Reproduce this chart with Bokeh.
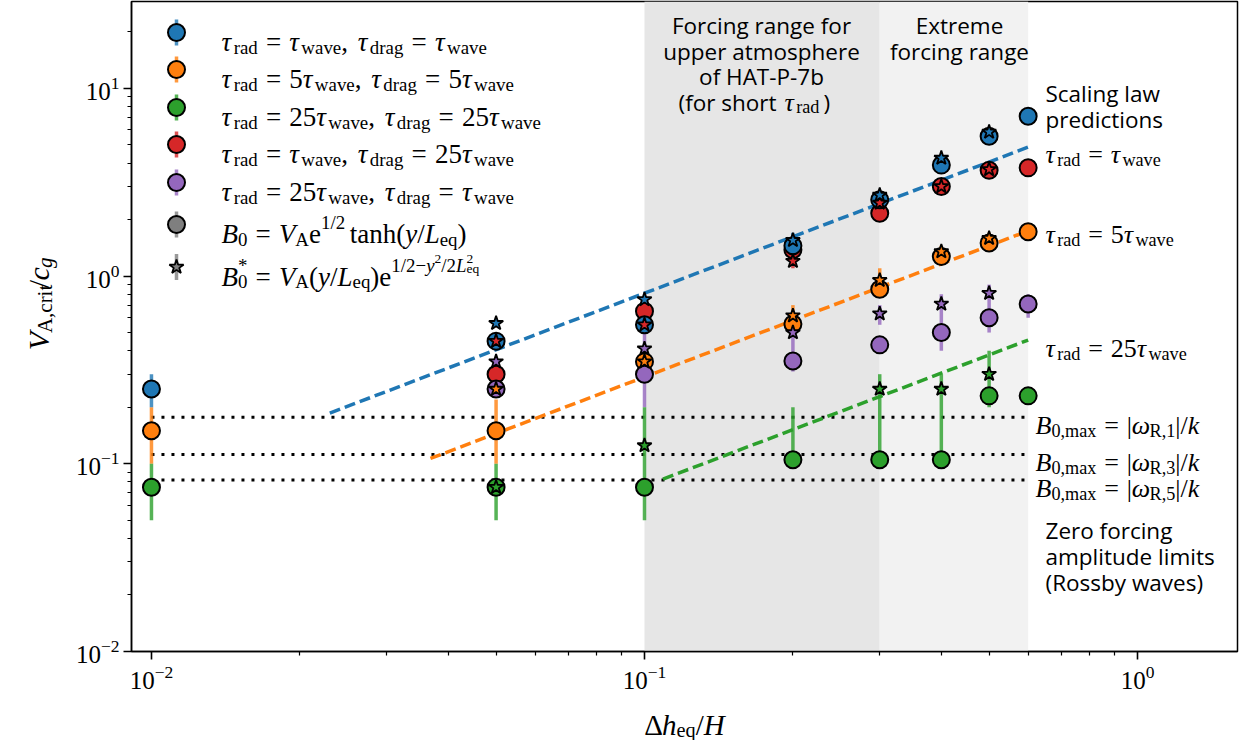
from math import pi
from bokeh.plotting import figure
from bokeh.layouts import row, column
from bokeh.models import Range1d, LinearScale, Label, BoxAnnotation, FixedTicker, LogTickFormatter
from bokeh.embed import file_html
from bokeh.resources import INLINE

nan = float("nan")

# ---------------- data ----------------
dh = [0.01, 0.05, 0.1, 0.2, 0.3, 0.4, 0.5, 0.6]

blue_circle = [0.25, 0.45, 0.55, 1.45, 2.55, 3.9, 5.55, 7.1]
blue_star = [nan, 0.56, 0.75, 1.55, 2.7, 4.25, 5.85, nan]
blue_lo = [0.2, nan, nan, 1.3, nan, nan, nan, nan]
blue_hi = [0.3, nan, nan, 1.7, nan, nan, nan, nan]

orange_circle = [0.15, 0.15, 0.35, 0.555, 0.85, 1.27, 1.5, 1.72]
orange_star = [nan, 0.25, 0.35, 0.615, 0.95, 1.35, 1.59, nan]
orange_lo = [0.1, 0.1, nan, 0.5, 0.8, 1.2, 1.45, nan]
orange_hi = [0.2, 0.22, nan, 0.7, 1.1, 1.45, 1.7, nan]

green_circle = [0.075, 0.075, 0.075, 0.105, 0.105, 0.105, 0.23, 0.23]
green_star = [nan, 0.075, 0.125, nan, 0.25, 0.25, 0.30, nan]
green_lo = [0.05, 0.05, 0.05, 0.1, 0.1, 0.1, 0.2, nan]
green_hi = [0.1, 0.1, 0.2, 0.2, 0.3, 0.3, 0.4, nan]

red_circle = [nan, 0.30, 0.65, 1.38, 2.16, 3.0, 3.66, 3.77]
red_star = [nan, 0.45, 0.55, 1.2, 2.45, 3.0, 3.7, nan]
red_lo = [nan, nan, nan, 1.1, nan, nan, nan, nan]
red_hi = [nan, nan, nan, 1.25, nan, nan, nan, nan]

purple_circle = [nan, 0.25, 0.30, 0.353, 0.43, 0.5, 0.6, 0.71]
purple_star = [nan, 0.35, 0.41, 0.5, 0.63, 0.71, 0.81, nan]
purple_lo = [nan, nan, 0.2, 0.31, 0.55, 0.4, 0.5, 0.6]
purple_hi = [nan, nan, 0.5, 0.5, 0.7, 0.8, 0.9, 0.8]

# scaling-law predictions V = coef * dh
scaling_coef = [8.1, 2.9, 0.76]
scaling_start = [0.023, 0.0368, 0.109]
scaling_end = 0.6
# zero-forcing Rossby-wave limits
rossby_limits = [0.177, 0.112, 0.082]
rossby_span = [0.01, 0.6]
# shaded forcing ranges
hat_range = [0.1, 0.3]
extreme_range = [0.3, 0.6]

x_major = [0.01, 0.1, 1.0]
y_major = [0.01, 0.1, 1.0, 10.0]

C_BLUE, C_ORANGE, C_GREEN, C_RED, C_PURPLE, C_GRAY = (
    "#1f77b4", "#ff7f0e", "#2ca02c", "#d62728", "#9467bd", "#7f7f7f")

# ---------------- layout geometry (page pixels) ----------------
W, H = 1243, 740
YLW = 60                   # strip for the y-axis label
XLH = 40                   # strip for the x-axis label
PW, PH = W - YLW, H - XLH  # main figure size
PX0, PY0 = 131, 1          # page position of frame top-left
FW, FH = 1106, 650

SERIF = "Liberation Serif"
SANS = "Open Sans"
MS = 27

p = figure(width=PW, height=PH, x_axis_type="log", y_axis_type="log",
           x_range=Range1d(0.00911, 1.595), y_range=Range1d(0.01, 29.0),
           output_backend="svg", toolbar_location=None,
           min_border_left=PX0 - YLW, min_border_right=W - PX0 - FW,
           min_border_top=PY0, min_border_bottom=PH - PY0 - FH)
p.extra_x_ranges = {"px": Range1d(0, FW)}
p.extra_x_scales = {"px": LinearScale()}
p.extra_y_ranges = {"py": Range1d(FH, 0)}
p.extra_y_scales = {"py": LinearScale()}

p.xgrid.visible = False
p.ygrid.visible = False
p.background_fill_color = "white"
p.border_fill_color = "white"
p.outline_line_color = "black"
p.outline_line_width = 1.5

p.xaxis.ticker = FixedTicker(ticks=x_major,
                             minor_ticks=[m * 10.0 ** e for e in (-3, -2, -1, 0) for m in range(2, 10)])
p.yaxis.ticker = FixedTicker(ticks=y_major,
                             minor_ticks=[m * 10.0 ** e for e in (-2, -1, 0, 1) for m in range(2, 10)])
for ax in (p.xaxis[0], p.yaxis[0]):
    ax.formatter = LogTickFormatter()
    ax.major_label_text_font = SERIF
    ax.major_label_text_font_size = "25px"
    ax.major_label_text_color = "black"
    ax.axis_line_color = "black"
    ax.axis_line_width = 1.5
    ax.major_tick_in = 0
    ax.major_tick_out = 8
    ax.minor_tick_in = 0
    ax.minor_tick_out = 4
    ax.major_tick_line_width = 1.6
    ax.minor_tick_line_width = 1.2
    ax.major_tick_line_color = "black"
    ax.minor_tick_line_color = "black"
p.xaxis.major_label_standoff = 6
p.yaxis.major_label_standoff = 4

p.add_layout(BoxAnnotation(left=hat_range[0], right=hat_range[1], fill_color="#e6e6e6",
                           fill_alpha=1.0, line_color=None, level="underlay"))
p.add_layout(BoxAnnotation(left=extreme_range[0], right=extreme_range[1], fill_color="#f2f2f2",
                           fill_alpha=1.0, line_color=None, level="underlay"))

for lev in rossby_limits:
    p.line(rossby_span, [lev, lev], line_color="black", line_width=3, line_dash="3 7")

for coef, x0, col in zip(scaling_coef, scaling_start, [C_BLUE, C_ORANGE, C_GREEN]):
    p.line([x0, scaling_end], [coef * x0, coef * scaling_end], line_color=col,
           line_width=3.5, line_dash="11 5")

series = [
    (C_RED, red_circle, red_star, red_lo, red_hi),
    (C_ORANGE, orange_circle, orange_star, orange_lo, orange_hi),
    (C_PURPLE, purple_circle, purple_star, purple_lo, purple_hi),
    (C_BLUE, blue_circle, blue_star, blue_lo, blue_hi),
    (C_GREEN, green_circle, green_star, green_lo, green_hi),
]


def ok(v):
    return v == v


for col, circ, star, lo, hi in series:
    xs = [x for x, a, b in zip(dh, lo, hi) if ok(a) and ok(b)]
    los = [a for a, b in zip(lo, hi) if ok(a) and ok(b)]
    his = [b for a, b in zip(lo, hi) if ok(a) and ok(b)]
    p.segment(x0=xs, y0=los, x1=xs, y1=his, line_color=col, line_width=3.5, line_alpha=0.8)
for col, circ, star, lo, hi in series:
    xs = [x for x, v in zip(dh, circ) if ok(v)]
    ys = [v for v in circ if ok(v)]
    p.scatter(xs, ys, marker="circle", size=17, fill_color=col, line_color="black", line_width=2)
for col, circ, star, lo, hi in series:
    xs = [x for x, v in zip(dh, star) if ok(v)]
    ys = [v for v in star if ok(v)]
    p.scatter(xs, ys, marker="star", size=15, fill_color=col, line_color="black", line_width=1.8)

# ---------------- text helpers ----------------
ROMAN = {' ': .25, '(': .333, ')': .333, '*': .5, ',': .25, '/': .278, '=': .564, '|': .2,
         '−': .564, '-': .333, 'A': .722, 'B': .667, 'H': .722, 'L': .611, 'R': .667, 'V': .722,
         'a': .444, 'c': .444, 'd': .5, 'e': .444, 'g': .5, 'h': .5, 'i': .278, 'k': .5, 'm': .778,
         'n': .5, 'q': .5, 'r': .333, 't': .278, 'v': .5, 'w': .722, 'x': .5, 'y': .5,
         'Δ': .612, 'τ': .45, 'ω': .68}
ITALIC = {'B': .611, 'H': .722, 'L': .556, 'V': .611, 'c': .444, 'g': .5, 'h': .5, 'k': .444,
          'y': .444, 'τ': .45, 'ω': .68}
KIND = {"r": (1.0, 0.0, False), "i": (1.0, 0.0, True),
        "sr": (0.7, -0.2, False), "si": (0.7, -0.2, True),
        "pr": (0.7, 0.42, False), "pi": (0.7, 0.42, True),
        "ppr": (0.5, 0.66, False), "psr": (0.5, 0.28, False)}


def width(s, italic):
    tbl = ITALIC if italic else ROMAN
    return sum(tbl.get(ch, ROMAN.get(ch, 0.5)) for ch in s)


def layout(tokens, size):
    pieces = []
    cur = 0.0
    prev_start = 0.0
    pending = None
    for txt, kind in tokens:
        if kind == "gap":
            cur += txt * size
            continue
        if kind == "back":
            pending = cur
            cur = prev_start
            continue
        sc, sh, it = KIND[kind]
        fs = size * sc
        pieces.append((cur, sh * size, txt, fs, it))
        prev_start = cur
        cur += width(txt, it) * fs
        if pending is not None:
            cur = max(cur, pending)
            pending = None
    return pieces, cur


def lab(fig, **kw):
    base = dict(text_font=SERIF, text_align="left", text_baseline="alphabetic", text_color="black")
    base.update(kw)
    fig.add_layout(Label(**base))


def rich(tokens, x, y, size=MS, align="left", rotated=False, fig=None):
    """x, y: pixel position (y downward) in the frame of `fig` (main frame if fig is None)."""
    pieces, tot = layout(tokens, size)
    off = {"left": 0.0, "center": -tot / 2, "right": -tot}[align]
    for dx, dy, txt, fs, it in pieces:
        common = dict(text=txt, text_font_size=f"{fs:.1f}px",
                      text_font_style="italic" if it else "normal")
        if rotated:
            lx, ly, ang = x - dy, y - (off + dx), pi / 2
        else:
            lx, ly, ang = x + off + dx, y - dy, 0
        if fig is None:
            lab(p, x=lx, y=ly, x_range_name="px", y_range_name="py", angle=ang, **common)
        else:
            lab(fig, x=lx, y=ly, angle=ang, **common)
    return tot


def mrich(tokens, page_x, page_y, **kw):
    return rich(tokens, page_x - PX0, page_y - PY0, **kw)


def sans(text, page_x, page_y, align="left", size=22.5):
    lab(p, x=page_x - PX0, y=page_y - PY0, x_range_name="px", y_range_name="py", text=text,
        text_font=SANS, text_font_size=f"{size}px", text_align=align)


def strip(w, h):
    f = figure(width=w, height=h, x_range=Range1d(0, w), y_range=Range1d(h, 0),
               output_backend="svg", toolbar_location=None, x_axis_location=None,
               y_axis_location=None, min_border=0, outline_line_color=None)
    f.grid.visible = False
    f.background_fill_color = "white"
    f.border_fill_color = "white"
    return f


G = (0.3, "gap")
TS = (0.167, "gap")


def tau(sub, coef=""):
    t = [(coef, "r")] if coef else []
    return t + [("τ", "i"), (sub, "sr")]


def eq(lhs, rhs):
    return lhs + [G, ("=", "r"), G] + rhs


# ---------------- axis labels (separate text strips) ----------------
ylab = strip(YLW, PH)
rich([("V", "i"), ("A,crit", "sr"), ("/", "r"), ("c", "i"), ("g", "si")], 38, 326,
     size=30, align="center", rotated=True, fig=ylab)
xlab = strip(W, XLH)
rich([("Δ", "r"), ("h", "i"), ("eq", "sr"), ("/", "r"), ("H", "i")], 684, 724 - PH,
     size=29, align="center", fig=xlab)

# ---------------- legend ----------------
leg_y = [32, 69, 107, 144, 182, 224, 266.5]
leg_colors = [C_BLUE, C_ORANGE, C_GREEN, C_RED, C_PURPLE, C_GRAY, C_GRAY]
leg_x = 176 - PX0
p.segment(x0=[leg_x] * 7, y0=[y - PY0 - 13 for y in leg_y], x1=[leg_x] * 7,
          y1=[y - PY0 + 13 for y in leg_y], line_color=leg_colors, line_width=3.5, line_alpha=0.8,
          x_range_name="px", y_range_name="py")
p.scatter([leg_x] * 6, [y - PY0 for y in leg_y[:6]], marker="circle", size=17,
          fill_color=leg_colors[:6], line_color="black", line_width=2,
          x_range_name="px", y_range_name="py")
p.scatter([leg_x], [leg_y[6] - PY0], marker="star", size=15, fill_color=C_GRAY,
          line_color="black", line_width=1.8, x_range_name="px", y_range_name="py")

comma = [(",", "r"), (0.36, "gap")]
leg_tokens = [
    eq(tau("rad"), tau("wave")) + comma + eq(tau("drag"), tau("wave")),
    eq(tau("rad"), tau("wave", "5")) + comma + eq(tau("drag"), tau("wave", "5")),
    eq(tau("rad"), tau("wave", "25")) + comma + eq(tau("drag"), tau("wave", "25")),
    eq(tau("rad"), tau("wave")) + comma + eq(tau("drag"), tau("wave", "25")),
    eq(tau("rad"), tau("wave", "25")) + comma + eq(tau("drag"), tau("wave")),
    [("B", "i"), ("0", "sr"), G, ("=", "r"), G, ("V", "i"), ("A", "sr"), ("e", "r"),
     ("1/2", "pr"), TS, ("tanh", "r"), ("(", "r"), ("y", "i"), ("/", "r"), ("L", "i"),
     ("eq", "sr"), (")", "r")],
    [("B", "i"), ("0", "sr"), (None, "back"), ("*", "pr"), G, ("=", "r"), G, ("V", "i"),
     ("A", "sr"), ("(", "r"), ("y", "i"), ("/", "r"), ("L", "i"), ("eq", "sr"), (")", "r"),
     ("e", "r"), ("1/2−", "pr"), ("y", "pi"), ("2", "ppr"), ("/2", "pr"), ("L", "pi"),
     ("eq", "psr"), (None, "back"), ("2", "ppr")],
]
for y, toks in zip(leg_y, leg_tokens):
    mrich(toks, 221, y + 9.5)

# ---------------- annotations ----------------
for i, line in enumerate(["Forcing range for", "upper atmosphere", "of HAT-P-7b"]):
    sans(line, 761, 25 + 25.5 * i, align="center")
sans("(for short", 678, 101.5)
w = mrich(tau("rad"), 784, 101.5, size=26)
sans(")", 784 + w + 4, 101.5)
sans("Extreme", 959, 25, align="center")
sans("forcing range", 959, 50.5, align="center")

sans("Scaling law", 1045, 93)
sans("predictions", 1045, 119)
mrich(eq(tau("rad"), tau("wave")), 1045, 154, size=26)
mrich(eq(tau("rad"), tau("wave", "5")), 1045, 234, size=26)
mrich(eq(tau("rad"), tau("wave", "25")), 1045, 348, size=26)

for n, base in zip(["1", "3", "5"], [425, 462, 488]):
    mrich([("B", "i"), ("0,max", "sr"), G, ("=", "r"), G, ("|", "r"), ("ω", "i"),
           ("R," + n, "sr"), ("|", "r"), ("/", "r"), ("k", "i")], 1035, base, size=26)

sans("Zero forcing", 1045, 530)
sans("amplitude limits", 1045, 556)
sans("(Rossby waves)", 1045, 582)

root = column(row(ylab, p, spacing=0), xlab, spacing=0)
open("out.html", "w").write(file_html(root, INLINE))
